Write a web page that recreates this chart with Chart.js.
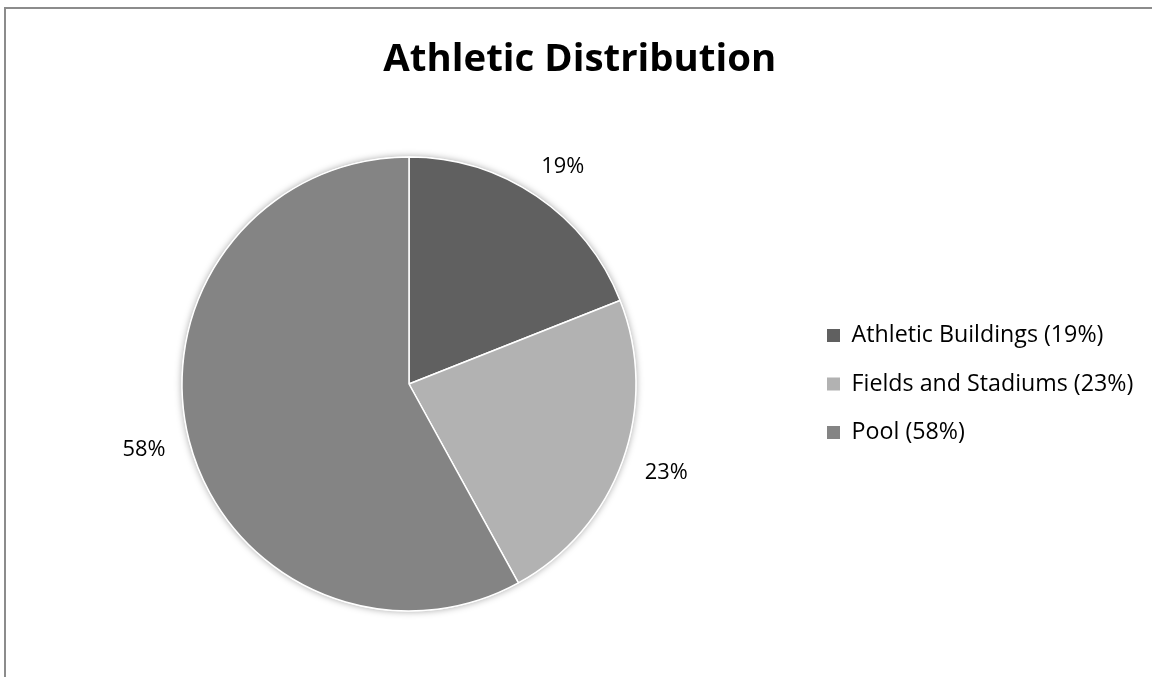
<!DOCTYPE html>
<html><head><meta charset="utf-8">
<script src="https://cdn.jsdelivr.net/npm/chart.js@4/dist/chart.umd.min.js"></script>
<style>
html,body{margin:0;padding:0;background:#fff;overflow:hidden;}
#wrap{position:relative;width:1152px;height:677px;overflow:hidden;background:#fff;}
#frame{position:absolute;left:4px;top:7px;width:2000px;height:2000px;border:2px solid #8c8c8c;box-sizing:border-box;}
canvas{position:absolute;left:0;top:0;}
</style></head><body>
<div id="wrap"><div id="frame"></div><canvas id="c" width="1152" height="677"></canvas></div>
<script>
// ---- data ----
const chartTitle = 'Athletic Distribution';
const categories = ['Athletic Buildings', 'Fields and Stadiums', 'Pool'];
const values = [19, 23, 58];

// ---- styles ----
const sliceColors = ['#606060', '#b2b2b2', '#848484'];
const FAMILY = '"Open Sans", "Liberation Sans", sans-serif';
const total = values.reduce((a, b) => a + b, 0);
const pct = v => Math.round(v / total * 100) + '%';
const legendTexts = categories.map((c, i) => `${c} (${pct(values[i])})`);

const mctx = document.createElement('canvas').getContext('2d');
function measure(weight, size, text) { mctx.font = `${weight} ${size}px ${FAMILY}`; return mctx.measureText(text).width; }
function fit(weight, text, target) { return 100 * target / measure(weight, 100, text); }

const titleSize = fit('bold', chartTitle, 393);
const legendSize = fit('normal', legendTexts[0], 252);
const labelSize = fit('normal', pct(values[1]), 43);

const boxW = 13;
const itemGap = 48.5;
const legPad = itemGap - Math.max(legendSize, boxW);
const colWidth = boxW + legendSize / 2 + Math.max(...legendTexts.map(t => measure('normal', legendSize, t)));
const boxX = 827, cx = 409, cy = 384, R = 227;
const padR = Math.max(0, 1152 - (boxX + colWidth + 10));
const padL = 2 * cx - (boxX - legPad);
const titleCenter = 60;
const titleTopPad = titleCenter - titleSize * 0.6;
const areaTop = 2 * cy - 677;
const titleBotPad = Math.max(0, areaTop - (titleTopPad + titleSize * 1.2));

const shadowPlugin = {
  id: 'pieShadow',
  beforeDatasetsDraw(chart) {
    const arc = chart.getDatasetMeta(0).data[0];
    if (!arc) return;
    const {x, y, outerRadius} = arc.getProps(['x', 'y', 'outerRadius'], true);
    const ctx = chart.ctx;
    ctx.save();
    ctx.shadowColor = 'rgba(0,0,0,0.35)';
    ctx.shadowBlur = 7;
    ctx.fillStyle = '#ffffff';
    ctx.beginPath();
    ctx.arc(x, y, outerRadius + 0.5, 0, Math.PI * 2);
    ctx.fill();
    ctx.restore();
  }
};

const labelGap = 25;
const labelPlugin = {
  id: 'pctLabels',
  afterDatasetsDraw(chart) {
    const ctx = chart.ctx;
    const meta = chart.getDatasetMeta(0);
    ctx.save();
    ctx.font = `normal ${labelSize}px ${FAMILY}`;
    ctx.fillStyle = '#000';
    ctx.textAlign = 'center';
    ctx.textBaseline = 'middle';
    meta.data.forEach((arc, i) => {
      const p = arc.getProps(['x', 'y', 'startAngle', 'endAngle', 'outerRadius'], true);
      const mid = (p.startAngle + p.endAngle) / 2;
      const ux = Math.cos(mid), uy = Math.sin(mid);
      const txt = pct(values[i]);
      const hw = ctx.measureText(txt).width / 2, hh = labelSize * 0.5;
      const d = p.outerRadius + labelGap;
      ctx.fillText(txt, p.x + ux * d + ux * hw, p.y + uy * d + uy * hh);
    });
    ctx.restore();
  }
};

new Chart(document.getElementById('c'), {
  type: 'pie',
  data: {
    labels: categories,
    datasets: [{
      data: values,
      backgroundColor: sliceColors,
      borderColor: '#ffffff',
      borderWidth: 1.5,
      hoverOffset: 0
    }]
  },
  options: {
    responsive: false,
    animation: false,
    devicePixelRatio: 1,
    radius: R,
    layout: { padding: { left: padL, right: padR, top: 0, bottom: 0 } },
    plugins: {
      tooltip: { enabled: false },
      title: {
        display: true,
        text: chartTitle,
        color: '#000',
        font: { family: FAMILY, size: titleSize, weight: 'bold', lineHeight: 1.2 },
        padding: { top: titleTopPad, bottom: titleBotPad }
      },
      legend: {
        position: 'right',
        align: 'center',
        fullSize: false,
        labels: {
          boxWidth: boxW,
          boxHeight: boxW,
          padding: legPad,
          color: '#000',
          font: { family: FAMILY, size: legendSize },
          generateLabels(chart) {
            const base = (Chart.overrides.pie || Chart.overrides.doughnut).plugins.legend.labels.generateLabels(chart);
            base.forEach((it, i) => {
              it.text = legendTexts[i];
              it.lineWidth = 0;
              it.strokeStyle = 'rgba(0,0,0,0)';
            });
            return base;
          }
        }
      }
    }
  },
  plugins: [shadowPlugin, labelPlugin]
});
</script>
</body></html>
